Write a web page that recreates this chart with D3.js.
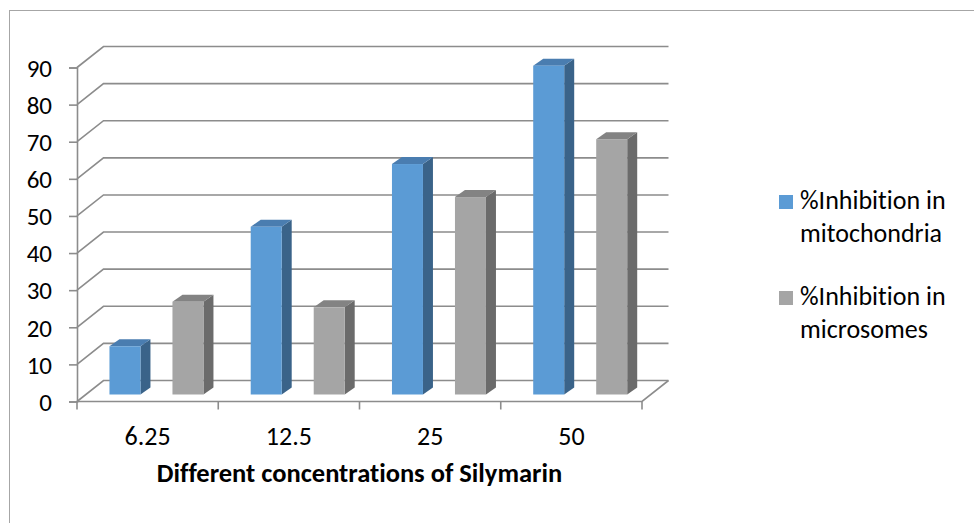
<!DOCTYPE html>
<html>
<head>
<meta charset="utf-8">
<script src="https://cdn.jsdelivr.net/npm/d3@7"></script>
<style>
  html, body { margin: 0; padding: 0; background: #fff; }
  svg { display: block; }
  text { font-family: Carlito, Lato, "Open Sans", sans-serif; fill: #000; font-variant-ligatures: none; font-feature-settings: "liga" 0, "clig" 0; }
</style>
</head>
<body>
<svg id="chart" width="974" height="523"></svg>
<script>
// Concentrations of Silymarin and inhibition percentages
const categories = ["6.25", "12.5", "25", "50"];
const seriesNames = ["%Inhibition in mitochondria", "%Inhibition in microsomes"];
const mitochondria = [13, 45.2, 62.1, 88.6];
const microsomes = [25, 23.5, 53.2, 68.8];
const yTicks = [0, 10, 20, 30, 40, 50, 60, 70, 80, 90];

const svg = d3.select("#chart");

// Front plane of the 3D box
const left = 77, right = 642, y0 = 401.5, y90 = 67.5;
const depthX = 26.5, depthY = -21;       // offset from front to back wall
const x = d3.scaleBand().domain(categories).range([left, right]).padding(0);
const xs = d3.scaleBand().domain([0, 1]).range([0, x.bandwidth()])
  .paddingInner(0.508).paddingOuter(0.375);
const y = d3.scaleLinear().domain([0, 90]).range([y0, y90]);

const gridColor = "#8c8c8c";

// Outer frame
svg.append("rect")
  .attr("x", 9.5).attr("y", 10.5).attr("width", 1000).attr("height", 1000)
  .attr("fill", "none").attr("stroke", "#a6a6a6").attr("stroke-width", 1);

// Back wall gridlines and side wall diagonals
const grid = svg.append("g").attr("stroke", gridColor).attr("stroke-width", 1.6).attr("fill", "none");
yTicks.forEach(t => {
  const yy = y(t);
  grid.append("path")
    .attr("d", `M${left},${yy} L${left + depthX},${yy + depthY} L${right + depthX},${yy + depthY}`);
});

// Floor front edge and right edge
grid.append("path").attr("d", `M${left},${y0} L${right},${y0} L${right + depthX},${y0 + depthY}`);

// Vertical axis (front)
const yAxis = d3.axisLeft(y).tickValues(yTicks).tickSize(8).tickFormat(d3.format("d"));
const gy = svg.append("g").attr("transform", `translate(${left},0)`).call(yAxis);
gy.select(".domain").attr("stroke", gridColor).attr("stroke-width", 1.6);
gy.selectAll(".tick line").attr("stroke", gridColor).attr("stroke-width", 1.6);
gy.selectAll(".tick text")
  .attr("x", -25).attr("dy", "0.35em")
  .style("font-size", "25px").style("fill", "#000");

// Category axis (front floor edge)
const xAxis = d3.axisBottom(x).tickSize(0).tickSizeOuter(0);
const gx = svg.append("g").attr("transform", `translate(0,${y0})`).call(xAxis);
gx.select(".domain").remove();
gx.selectAll(".tick text").attr("y", 43).attr("dy", 0)
  .style("font-size", "26px").style("fill", "#000");
// Category separators
const seps = [left].concat(categories.map(c => x(c) + x.bandwidth()));
svg.append("g").selectAll("line").data(seps).join("line")
  .attr("x1", d => d).attr("x2", d => d)
  .attr("y1", y0).attr("y2", y0 + 8)
  .attr("stroke", gridColor).attr("stroke-width", 1.6);

// Axis title
svg.append("text")
  .attr("x", (left + right) / 2).attr("y", 482)
  .attr("text-anchor", "middle")
  .style("font-size", "26.5px").style("font-weight", "bold")
  .text("Different concentrations of Silymarin");

// 3D columns, placed one third into the depth
const series = [
  { name: seriesNames[0], values: mitochondria, front: "#5b9bd5", top: "#4a7db0", side: "#3a6389" },
  { name: seriesNames[1], values: microsomes, front: "#a5a5a5", top: "#838383", side: "#6b6b6b" }
];
const shiftX = depthX / 3, shiftY = depthY / 3;
const barDx = 10, barDy = -7;
const bars = svg.append("g");
categories.forEach((c, ci) => {
  series.forEach((s, si) => {
    const v = s.values[ci];
    const bx = x(c) + xs(si) + shiftX;
    const bw = xs.bandwidth();
    const top = y(v) + shiftY;
    const base = y(0) + shiftY;
    const g = bars.append("g");
    // side face
    g.append("path")
      .attr("d", `M${bx + bw},${base} L${bx + bw + barDx},${base + barDy} L${bx + bw + barDx},${top + barDy} L${bx + bw},${top} Z`)
      .attr("fill", s.side);
    // top face
    g.append("path")
      .attr("d", `M${bx},${top} L${bx + barDx},${top + barDy} L${bx + bw + barDx},${top + barDy} L${bx + bw},${top} Z`)
      .attr("fill", s.top);
    // front face
    g.append("rect")
      .attr("x", bx).attr("y", top).attr("width", bw).attr("height", base - top)
      .attr("fill", s.front);
  });
});

// Legend
const legend = svg.append("g");
const legendY = [195, 291];
series.forEach((s, i) => {
  const words = s.name.split(" ");
  legend.append("rect")
    .attr("x", 779).attr("y", legendY[i]).attr("width", 14).attr("height", 14)
    .attr("fill", s.front);
  const t = legend.append("text").attr("x", 800).attr("y", legendY[i] + 14)
    .style("font-size", "26px");
  t.append("tspan").attr("x", 800).text(words.slice(0, 2).join(" "));
  t.append("tspan").attr("x", 800).attr("dy", 33).text(words.slice(2).join(" "));
});
</script>
</body>
</html>
